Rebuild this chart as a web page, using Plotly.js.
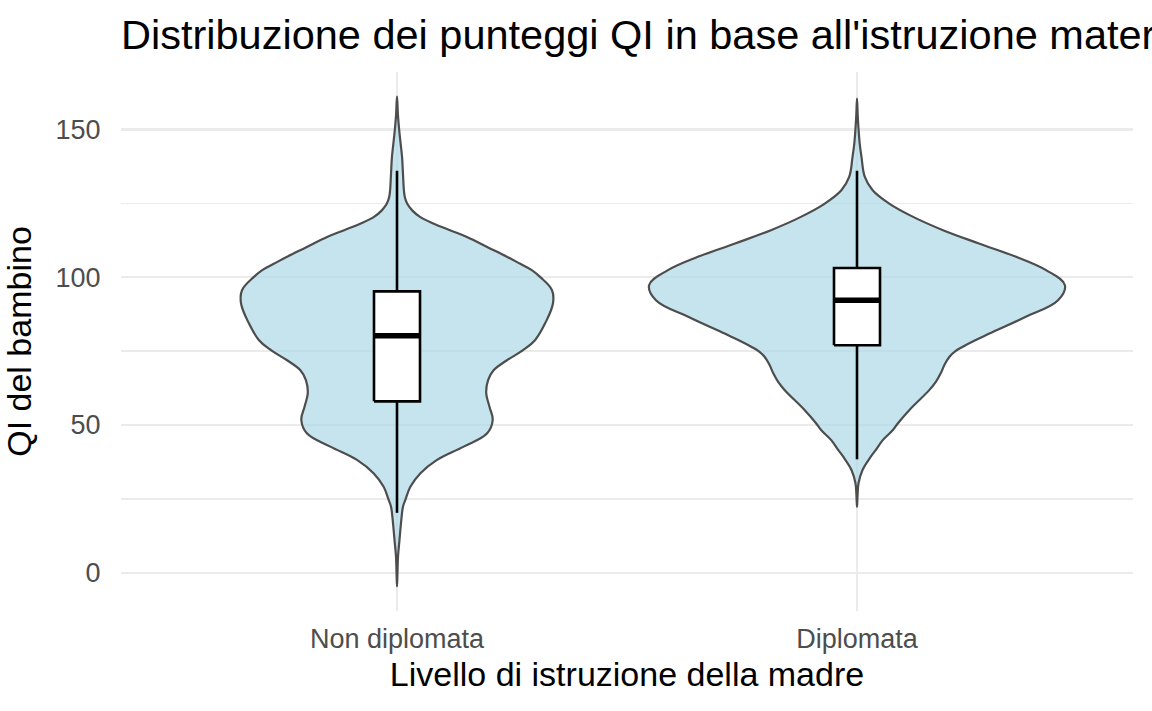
<!DOCTYPE html>
<html>
<head>
<meta charset="utf-8">
<script src="https://cdn.plot.ly/plotly-3.0.1.min.js"></script>
<style>html,body{margin:0;padding:0;background:#fff}#chart{width:1152px;height:711px}</style>
</head>
<body>
<div id="chart"></div>
<script>
// Categories (mother's education level)
const categories = ['Non diplomata', 'Diplomata'];

// Violin outline: QI levels and half-width of the density (category-axis units)
const violinY_non = [-4.6, 0, 5.5, 11.1, 16.8, 22.4, 24.6, 29.1, 33.7, 38.2, 42.7, 47.2, 51.7, 56.2, 60.7, 65.2, 68.5, 71.9, 75.3, 78.7, 84.4, 91.1, 95.6, 100.1, 102.4, 104.6, 106.9, 110.2, 113.6, 115.9, 118.1, 120.4, 122.6, 124.9, 127.1, 129.4, 135, 140.6, 145, 150.2, 155, 161.1];
const violinW_non = [0, 0.001, 0.0022, 0.0054, 0.0087, 0.013, 0.018, 0.029, 0.051, 0.087, 0.145, 0.196, 0.208, 0.201, 0.194, 0.198, 0.210, 0.239, 0.274, 0.300, 0.322, 0.339, 0.337, 0.311, 0.293, 0.267, 0.239, 0.196, 0.152, 0.115, 0.080, 0.050, 0.033, 0.022, 0.017, 0.015, 0.013, 0.011, 0.008, 0.0045, 0.002, 0];

const violinY_dip = [22.3, 26, 30.3, 34.8, 39.3, 41.6, 44.9, 48.3, 50.6, 55.1, 61.8, 64.5, 67.5, 70.3, 73.1, 75, 76.5, 78.7, 81.0, 86.6, 92.2, 97.3, 102.4, 106.9, 111.4, 115.9, 120.4, 124.9, 129.4, 133.9, 140.6, 145, 150.2, 155, 160.4];
const violinW_dip = [0, 0.0012, 0.0033, 0.012, 0.030, 0.041, 0.056, 0.078, 0.089, 0.114, 0.157, 0.171, 0.182, 0.190, 0.201, 0.214, 0.230, 0.257, 0.289, 0.367, 0.437, 0.452, 0.411, 0.346, 0.265, 0.187, 0.122, 0.070, 0.034, 0.017, 0.0098, 0.006, 0.0033, 0.0015, 0];

// Box-plot statistics
const q1 = [58, 77];
const medians = [80.2, 92.2];
const q3 = [95.2, 103.1];
const lowerWhisker = [20.3, 38.4];
const upperWhisker = [136, 136];

// Tick values
const yTicks = [0, 50, 100, 150];
const yMinorTicks = [25, 75, 125];

const violins = [[violinY_non, violinW_non], [violinY_dip, violinW_dip]];
const traces = [];
violins.forEach(([ys, ws], i) => {
  const c = i + 1;
  const xs = [], yy = [];
  for (let k = 0; k < ys.length; k++) { xs.push(c + ws[k]); yy.push(ys[k]); }
  for (let k = ys.length - 2; k >= 0; k--) { xs.push(c - ws[k]); yy.push(ys[k]); }
  traces.push({
    type: 'scatter', mode: 'lines', x: xs, y: yy, fill: 'toself',
    fillcolor: 'rgba(173,216,230,0.7)',
    line: {color: '#4D4D4D', width: 2.2, shape: 'spline', smoothing: 1.1},
    hoverinfo: 'skip', showlegend: false
  });
});

const boxW = 0.1;
categories.forEach((_, i) => {
  const c = i + 1, h = boxW / 2;
  // whiskers
  traces.push({type: 'scatter', mode: 'lines',
    x: [c, c, null, c, c], y: [lowerWhisker[i], q1[i], null, q3[i], upperWhisker[i]],
    line: {color: '#000000', width: 2.6}, hoverinfo: 'skip', showlegend: false});
  // box
  traces.push({type: 'scatter', mode: 'lines',
    x: [c - h, c + h, c + h, c - h, c - h], y: [q1[i], q1[i], q3[i], q3[i], q1[i]],
    fill: 'toself', fillcolor: '#FFFFFF',
    line: {color: '#000000', width: 2.6}, hoverinfo: 'skip', showlegend: false});
  // thick median
  traces.push({type: 'scatter', mode: 'lines',
    x: [c - h, c + h], y: [medians[i], medians[i]],
    line: {color: '#000000', width: 5.5}, hoverinfo: 'skip', showlegend: false});
});

const fontFam = 'Liberation Sans, Arial, Helvetica, sans-serif';
const layout = {
  width: 1152, height: 711,
  paper_bgcolor: '#FFFFFF', plot_bgcolor: '#FFFFFF',
  margin: {l: 121, r: 19, t: 72, b: 100, pad: 0},
  font: {family: fontFam, color: '#000000'},
  title: {
    text: "Distribuzione dei punteggi QI in base all'istruzione materna",
    font: {size: 41.5, color: '#000000', family: fontFam},
    x: 0, xref: 'paper', xanchor: 'left', y: 0.951, yref: 'container', yanchor: 'middle'
  },
  xaxis: {
    type: 'linear', range: [0.4, 2.6],
    tickmode: 'array', tickvals: categories.map((_, i) => i + 1), ticktext: categories,
    tickfont: {size: 27, color: '#4D4D4D'},
    ticks: 'outside', ticklen: 4, tickcolor: 'rgba(0,0,0,0)',
    showgrid: true, gridcolor: '#EBEBEB', gridwidth: 2.5, zeroline: false, showline: false,
    title: {text: 'Livello di istruzione della madre', font: {size: 34, color: '#000000'}, standoff: 8},
    automargin: false
  },
  yaxis: {
    range: [-12.9, 169.4],
    tickmode: 'array', tickvals: yTicks,
    tickfont: {size: 27, color: '#4D4D4D'},
    ticks: 'outside', ticklen: 14, tickcolor: 'rgba(0,0,0,0)',
    showgrid: true, gridcolor: '#EBEBEB', gridwidth: 2.5, zeroline: false, showline: false,
    minor: {tickmode: 'array', tickvals: yMinorTicks, showgrid: true, gridcolor: '#EBEBEB', gridwidth: 1.3, ticks: ''},
    title: {text: 'QI del bambino', font: {size: 34, color: '#000000'}, standoff: 14},
    automargin: false
  },
  showlegend: false
};

Plotly.newPlot('chart', traces, layout, {displayModeBar: false, staticPlot: true});
</script>
</body>
</html>
